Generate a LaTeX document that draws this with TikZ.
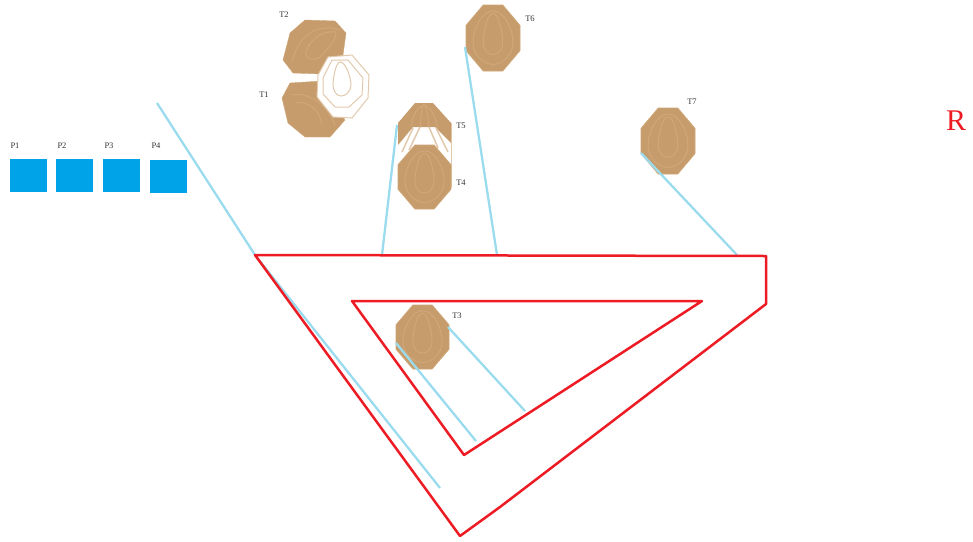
\documentclass[tikz,border=0pt]{standalone}
\usepackage{fontspec}
\setmainfont{Liberation Serif}
\definecolor{brownfill}{HTML}{C69C6D}
\definecolor{contour}{HTML}{CFA778}
\definecolor{wallblue}{HTML}{9ADCEE}
\definecolor{redwall}{HTML}{ED1C24}
\definecolor{padblue}{HTML}{00A2E8}
\definecolor{paleline}{HTML}{E2C9AD}
\tikzset{
  wall/.style={draw=wallblue,line width=2.3pt},
  redline/.style={draw=redwall,line width=2.5pt,line join=round},
  pad/.style={fill=padblue,draw=none,minimum width=37pt,minimum height=33pt,inner sep=0pt,outer sep=0pt},
  tiny/.style={font=\fontsize{8.5}{8.5}\selectfont,text=black!80,inner sep=0pt},
}
% #1 x, #2 y, #3 half width, #4 half height, #5 rotation, #6 fill, #7 contour colour
\newcommand{\robotshape}[7]{%
  \begin{scope}[shift={(#1,#2)},rotate=#5,xscale=#3,yscale=#4]
    \filldraw[fill=#6,draw=#7,line width=0.8pt] (-0.36,-1)--(0.36,-1)--(1,-0.38)--(1,0.38)--(0.36,1)--(-0.36,1)--(-1,0.38)--(-1,-0.38)--cycle;
    \draw[#7,line width=1pt] (0,-0.82) .. controls (0.4,-0.82) and (0.74,-0.3) .. (0.74,0.15) .. controls (0.74,0.5) and (0.35,0.8) .. (0,0.8) .. controls (-0.35,0.8) and (-0.74,0.5) .. (-0.74,0.15) .. controls (-0.74,-0.3) and (-0.4,-0.82) .. (0,-0.82) -- cycle;
    \draw[#7,line width=1pt] (0,-0.74) .. controls (0.22,-0.74) and (0.36,-0.15) .. (0.36,0.12) .. controls (0.36,0.4) and (0.16,0.5) .. (0,0.5) .. controls (-0.16,0.5) and (-0.36,0.4) .. (-0.36,0.12) .. controls (-0.36,-0.15) and (-0.22,-0.74) .. (0,-0.74) -- cycle;
  \end{scope}}
\begin{document}
\begin{tikzpicture}[x=1pt,y=-1pt]
\useasboundingbox (0,0) rectangle (973,541);
% named end points
\coordinate (w1a) at (157,103); \coordinate (w1m) at (255,255); \coordinate (w1b) at (440,488);
\coordinate (w2a) at (397,125); \coordinate (w2b) at (382,255);
\coordinate (w3a) at (465,47);  \coordinate (w3b) at (497,255);
\coordinate (w4a) at (641,153); \coordinate (w4b) at (737,255);
\coordinate (w5a) at (396,343); \coordinate (w5b) at (476,441);
\coordinate (w6a) at (448,327); \coordinate (w6b) at (525,411);
% pads
\node[pad,anchor=north west] (p1) at (10,159) {};
\node[pad,anchor=north west] (p2) at (56,159) {};
\node[pad,anchor=north west] (p3) at (103,159) {};
\node[pad,anchor=north west] (p4) at (150,160) {};
\node[tiny] (lp1) at (15,146) {P1};
\node[tiny] (lp2) at (62,146) {P2};
\node[tiny] (lp3) at (109,146) {P3};
\node[tiny] (lp4) at (156,146) {P4};
% T2
\filldraw[fill=brownfill,draw=contour] (305,20)--(335,21)--(346,33)--(343,55)--(322,74)--(293,73)--(283,60)--(290,33)--cycle;
\draw[contour,line width=1pt] (340,30) .. controls (322,24) and (300,30) .. (292,62);
\draw[contour,line width=1pt] (336,32) .. controls (325,30) and (310,38) .. (306,52) .. controls (304,60) and (316,62) .. (322,55) .. controls (330,46) and (336,40) .. (336,32) -- cycle;
% T1
\filldraw[fill=brownfill,draw=contour] (290,83)--(322,81)--(345,120)--(330,137)--(305,137)--(288,123)--(282,98)--cycle;
\draw[contour,line width=1pt] (292,95) .. controls (305,92) and (325,100) .. (335,125);
\draw[contour,line width=1pt] (296,103) .. controls (308,100) and (320,110) .. (322,125);
% white T
\filldraw[fill=white,draw=paleline,line width=1pt] (328,57)--(352,55)--(369,75)--(368,98)--(352,118)--(333,117)--(317,97)--(318,75)--cycle;
\draw[paleline,line width=1pt] (332,60)--(348,60)--(363,78)--(362,95)--(349,107)--(335,107)--(323,94)--(323,78)--cycle;
\draw[paleline,line width=1pt] (340,62) .. controls (346,62) and (351,78) .. (351,85) .. controls (351,92) and (345,96) .. (341,96) .. controls (336,96) and (333,90) .. (333,85) .. controls (333,78) and (336,62) .. (340,62) -- cycle;
% T5 behind T4
\fill[white] (398,123) -- (415,103) -- (433,103) -- (451,123) -- (451,187) -- (398,187) -- cycle;
\draw[paleline,line width=1pt] (451,123) -- (451,187);
\fill[brownfill] (415,103) -- (433,103) -- (451,123) -- (451,143) -- (435,127) -- (413,127) -- (398,145) -- (398,123) -- cycle;
\draw[contour,line width=1pt] (420,127) .. controls (421,115) and (422,106) .. (424,104) .. controls (426,106) and (428,115) .. (429,127);
\draw[contour,line width=1pt] (411,127) .. controls (413,115) and (417,107) .. (424,105) .. controls (431,107) and (435,115) .. (438,130);
\draw[paleline,line width=1.5pt] (420,127) -- (409,150);
\draw[paleline,line width=1.5pt] (429,127) -- (438,148);
\draw[paleline,line width=1.5pt] (413,128) -- (402,152);
\draw[paleline,line width=1.5pt] (436,128) -- (448,152);
% T4
\robotshape{424.5}{177}{26.5}{32}{0}{brownfill}{contour}
% T3, T6, T7
\robotshape{422.5}{337}{26.5}{32}{0}{brownfill}{contour}
\robotshape{493}{38}{27}{33}{0}{brownfill}{contour}
\robotshape{668}{141}{27}{33}{0}{brownfill}{contour}
% light blue walls
\draw[wall] (w1a) -- (w1m) -- (w1b);
\draw[wall] (w2a) -- (w2b);
\draw[wall] (w3a) -- (w3b);
\draw[wall] (w4a) -- (w4b);
\draw[wall] (w5a) -- (w5b);
\draw[wall] (w6a) -- (w6b);
% red outlines
\draw[redline] (255,255) -- (766,256) -- (766,304) -- (500,507) -- (460,536) -- cycle;
\draw[redline] (352,301) -- (702,301) -- (464,455) -- cycle;
% labels
\node[tiny] (t2) at (284,15) {T2};
\node[tiny] (t1) at (264,95) {T1};
\node[tiny] (t5) at (461,126) {T5};
\node[tiny] (t4) at (461,183) {T4};
\node[tiny] (t3) at (457,316) {T3};
\node[tiny] (t6) at (530,19) {T6};
\node[tiny] (t7) at (692,102) {T7};
\node[font=\fontsize{30}{30}\selectfont,text=redwall,inner sep=0pt] (r) at (956,121) {R};
\end{tikzpicture}
\end{document}
